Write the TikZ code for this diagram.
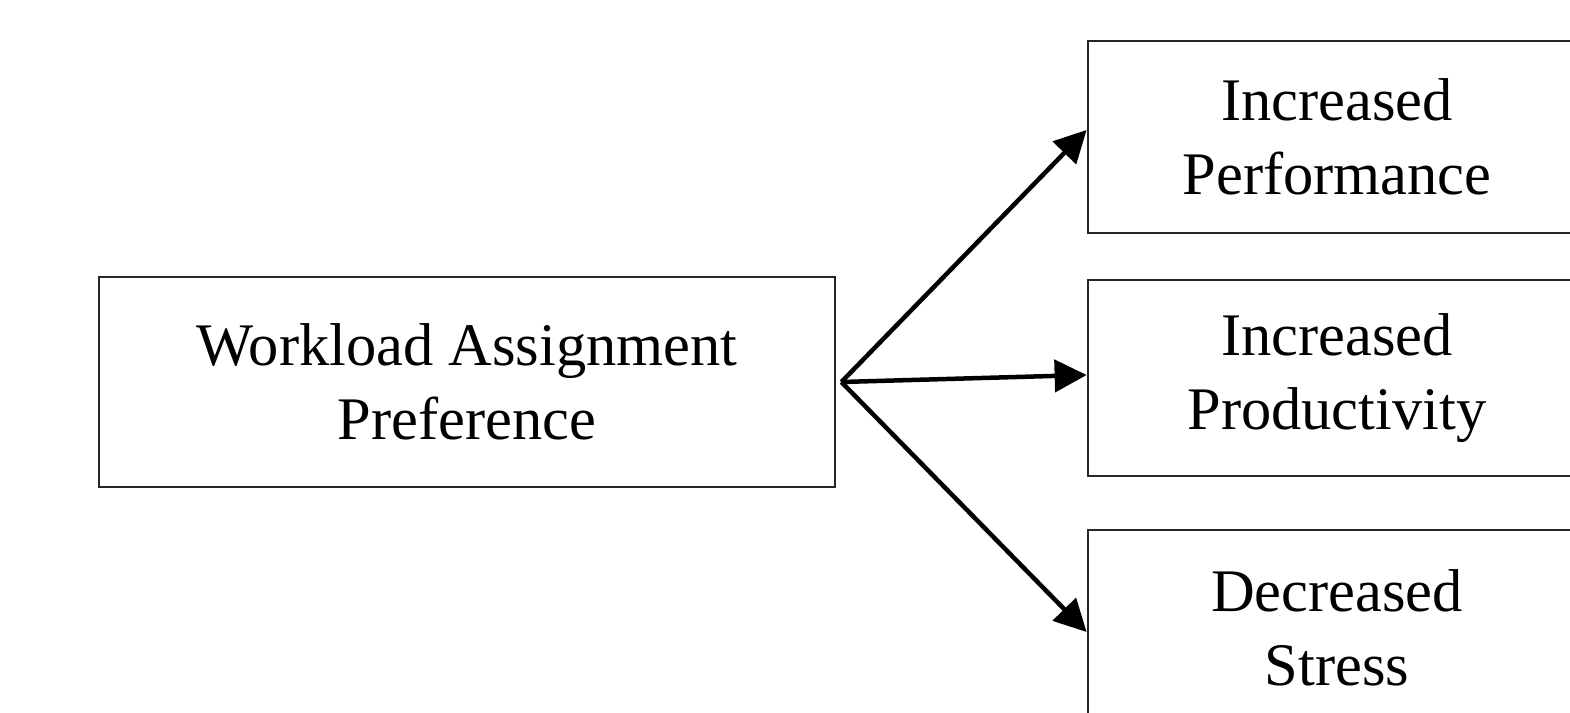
\documentclass[tikz,border=0pt]{standalone}
\usepackage{fontspec}
\setmainfont{Liberation Serif}
\usetikzlibrary{arrows.meta}

\begin{document}
\begin{tikzpicture}[x=0.1mm,y=-0.1mm,
        box/.style={draw=black!85,line width=0.28mm,align=center,inner sep=0pt,
            font=\fontsize{17.2}{21}\selectfont},
        outcome/.style={box,minimum width=49.8mm,minimum height=19.4mm},
        link/.style={line width=0.45mm,-{Triangle[length=3.2mm,width=3.2mm]}}]
        \useasboundingbox (0,0) rectangle (1570,713);
        \clip (0,0) rectangle (1570,713);
        % the cause on the left
        \node[box,minimum width=73.6mm,minimum height=21mm] (wap) at (467,382)
            {Workload Assignment\\Preference};
        % the three outcomes on the right
        \node[outcome,minimum height=19.2mm] (perf) at (1337,137) {Increased\\Performance};
        \node[outcome,minimum height=19.6mm] (prod) at (1337,378) {Increased\\Productivity};
        \node[outcome,minimum height=19.6mm] (stress) at (1337,628) {Decreased\\Stress};
        % arrows from the cause to each outcome
        \coordinate (fork) at ([xshift=0.5mm]wap.east);
        \draw[link] (fork) -- ([yshift=0.7mm]perf.west);
        \draw[link] (fork) -- ([yshift=0.3mm]prod.west);
        \draw[link] (fork) -- ([yshift=-0.4mm]stress.west);
    \end{tikzpicture}
\end{document}
